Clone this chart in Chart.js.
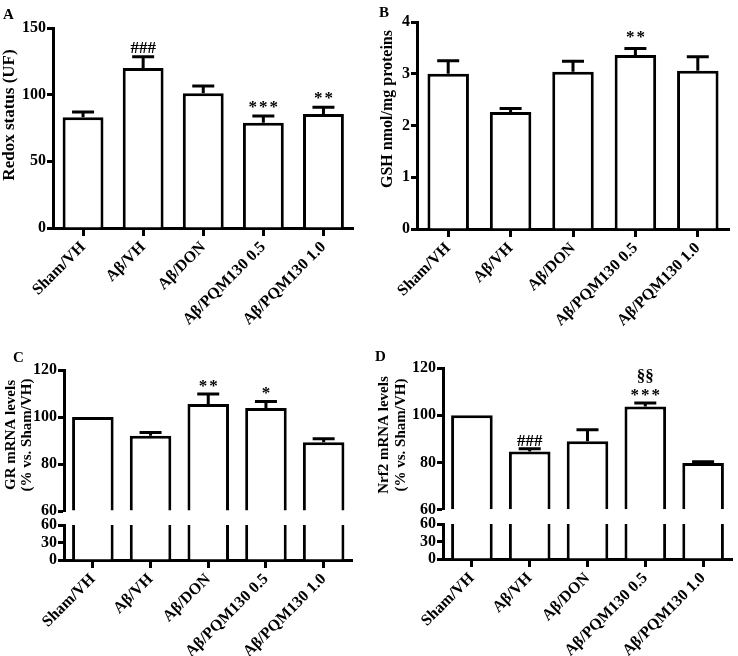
<!DOCTYPE html>
<html>
<head>
<meta charset="utf-8">
<script src="https://cdn.jsdelivr.net/npm/chart.js@4.4.1/dist/chart.umd.min.js"></script>
<style>
  body { margin: 0; background: #fff; }
  #page { position: relative; width: 738px; height: 656px; overflow: hidden; }
  .panel { position: absolute; }
  .tag { position: absolute; font: bold 15px "Liberation Serif", serif; color: #000; }
</style>
</head>
<body>
<div id="page">
  <canvas id="chartA" class="panel" width="369" height="330" style="left:0;top:0"></canvas>
  <canvas id="chartB" class="panel" width="369" height="330" style="left:369px;top:0"></canvas>
  <canvas id="chartC" class="panel" width="369" height="326" style="left:0;top:330px"></canvas>
  <canvas id="chartD" class="panel" width="369" height="326" style="left:369px;top:330px"></canvas>
  <div class="tag" style="left:3px;top:6px">A</div>
  <div class="tag" style="left:379px;top:4px">B</div>
  <div class="tag" style="left:13px;top:349px">C</div>
  <div class="tag" style="left:375px;top:348px">D</div>
</div>
<script>
var groups = ['Sham/VH', 'Aβ/VH', 'Aβ/DON', 'Aβ/PQM130 0.5', 'Aβ/PQM130 1.0'];

// A: redox status (UF)
var redoxMean = [83, 120, 101, 79, 85.5];
var redoxSem = [4, 8.5, 5.5, 5, 5];
var redoxSig = ['', '###', '', '***', '**'];

// B: GSH nmol/mg proteins
var gshMean = [3.0, 2.26, 3.04, 3.36, 3.06];
var gshSem = [0.25, 0.07, 0.2, 0.13, 0.27];
var gshSig = ['', '', '', '**', ''];

// C: GR mRNA (% vs Sham/VH)
var grMean = [100, 92, 105.5, 103.8, 89.3];
var grSem = [0, 1.4, 4.3, 2.8, 1.4];
var grSig = ['', '', '**', '*', ''];

// D: Nrf2 mRNA (% vs Sham/VH)
var nrfMean = [100, 84.6, 89, 103.7, 79.8];
var nrfSem = [0, 1.2, 4.9, 1.5, 0.5];
var nrfSig = ['', '###', '', ['§§', '***'], ''];

var FONT = '"Liberation Serif", "Times New Roman", serif';
Chart.defaults.font.family = FONT;
Chart.defaults.color = '#000';

// upper error bars + significance marks, from the first dataset's scale
var errorBars = {
  id: 'errorBars',
  afterDatasetsDraw: function (chart) {
    var o = chart.options.plugins.errorBars;
    if (!o || !o.mean) return;
    var meta = chart.getDatasetMeta(0);
    var ys = chart.scales[meta.yAxisID];
    var ctx = chart.ctx;
    ctx.save();
    ctx.strokeStyle = '#000';
    ctx.lineWidth = 3;
    ctx.fillStyle = '#000';
    ctx.textAlign = 'center';
    ctx.textBaseline = 'alphabetic';
    ctx.font = 'bold ' + o.fontSize + 'px ' + FONT;
    meta.data.forEach(function (bar, i) {
      var yMean = ys.getPixelForValue(o.mean[i]);
      var yTop = ys.getPixelForValue(o.mean[i] + o.sem[i]);
      if (o.sem[i] > 0) {
        ctx.beginPath();
        ctx.moveTo(bar.x, yMean);
        ctx.lineTo(bar.x, yTop);
        ctx.moveTo(bar.x - o.cap, yTop);
        ctx.lineTo(bar.x + o.cap, yTop);
        ctx.stroke();
      }
      var lines = o.sig[i];
      if (!lines) return;
      if (!Array.isArray(lines)) lines = [lines];
      for (var k = 0; k < lines.length; k++) {
        var row = lines.length - 1 - k;
        var star = lines[k].charAt(0) === '*';
        ctx.letterSpacing = star ? '2px' : '0px';
        ctx.fillText(lines[k], bar.x + (star ? 1 : 0), yTop - o.gap - row * o.lineGap);
      }
    });
    ctx.restore();
  }
};

// rotated y-axis titles
var axisTitle = {
  id: 'axisTitle',
  afterDraw: function (chart) {
    var o = chart.options.plugins.axisTitle;
    if (!o) return;
    var ctx = chart.ctx;
    ctx.save();
    ctx.translate(o.x, o.y);
    ctx.rotate(-Math.PI / 2);
    ctx.fillStyle = '#000';
    ctx.font = 'bold ' + o.size + 'px ' + FONT;
    ctx.textAlign = 'center';
    ctx.textBaseline = 'middle';
    o.lines.forEach(function (t, k) { ctx.fillText(t, 0, k * (o.lineGap || 0)); });
    ctx.restore();
  }
};

function xAxis(h) {
  return {
    type: 'category',
    offset: true,
    grid: { display: true, drawOnChartArea: false, offset: false, tickLength: 8, tickWidth: 3, tickColor: '#000' },
    border: { display: true, color: '#000', width: 3 },
    ticks: { color: '#000', font: { size: 16, weight: 'bold' }, minRotation: 45, maxRotation: 45, autoSkip: false, padding: 2 },
    afterFit: function (s) { s.height = h; }
  };
}

function yAxis(w, min, max, step, extra) {
  var a = {
    type: 'linear',
    position: 'left',
    min: min,
    max: max,
    grid: { display: true, drawOnChartArea: false, tickLength: 6, tickWidth: 3, tickColor: '#000' },
    border: { display: true, color: '#000', width: 3 },
    ticks: { stepSize: step, autoSkip: false, color: '#000', font: { size: 16, weight: 'bold' }, padding: 1 },
    afterFit: function (s) { s.width = w; }
  };
  for (var k in extra) a[k] = extra[k];
  return a;
}

function barSet(data, pct, extra) {
  var d = {
    data: data,
    backgroundColor: '#fff',
    borderColor: '#000',
    borderWidth: 3,
    borderSkipped: 'start',
    barPercentage: pct,
    categoryPercentage: 1,
    grouped: false
  };
  for (var k in extra) d[k] = extra[k];
  return d;
}

function simpleChart(id, mean, sem, sig, geo) {
  return new Chart(document.getElementById(id), {
    type: 'bar',
    data: { labels: groups, datasets: [barSet(mean, geo.pct)] },
    options: {
      responsive: false,
      animation: false,
      layout: { padding: { left: 0, top: geo.top, right: geo.right, bottom: 0 } },
      plugins: {
        legend: { display: false },
        tooltip: { enabled: false },
        errorBars: { mean: mean, sem: sem, sig: sig, cap: 11, gap: geo.gap, lineGap: 18, fontSize: 17 },
        axisTitle: geo.title
      },
      scales: {
        x: xAxis(geo.xh),
        y: yAxis(geo.yw, geo.min, geo.max, geo.step)
      }
    },
    plugins: [errorBars, axisTitle]
  });
}

// broken value axis: same bars drawn on a 60-120 segment and a 0-60 segment
function brokenChart(id, mean, sem, sig, geo) {
  return new Chart(document.getElementById(id), {
    type: 'bar',
    data: {
      labels: groups,
      datasets: [
        barSet(mean, geo.pct, { yAxisID: 'yTop', base: 60, clip: { left: 5, right: 5, top: 5, bottom: 0 } }),
        barSet(mean, geo.pct, { yAxisID: 'yLow', clip: { left: 5, right: 5, top: 0, bottom: 5 } })
      ]
    },
    options: {
      responsive: false,
      animation: false,
      layout: { padding: { left: 0, top: geo.top, right: geo.right, bottom: 0 } },
      plugins: {
        legend: { display: false },
        tooltip: { enabled: false },
        errorBars: { mean: mean, sem: sem, sig: sig, cap: 11, gap: geo.gap, lineGap: 19, fontSize: 17 },
        axisTitle: geo.title
      },
      scales: {
        x: xAxis(geo.xh),
        yLow: yAxis(geo.yw, 0, 60, 30, { stack: 'v', stackWeight: geo.lowH }),
        yGap: {
          type: 'linear', position: 'left', stack: 'v', stackWeight: geo.gapH,
          grid: { display: false }, border: { display: false }, ticks: { display: false },
          afterFit: function (s) { s.width = geo.yw; }
        },
        yTop: yAxis(geo.yw, 60, 120, 20, { stack: 'v', stackWeight: geo.topH })
      }
    },
    plugins: [errorBars, axisTitle]
  });
}

simpleChart('chartA', redoxMean, redoxSem, redoxSig, {
  pct: 0.68, top: 28, right: 15.5, xh: 102, yw: 53, min: 0, max: 150, step: 50, gap: 4,
  title: { x: 10, y: 115, size: 17, lines: ['Redox status (UF)'] }
});

simpleChart('chartB', gshMean, gshSem, gshSig, {
  pct: 0.665, top: 22, right: 9, xh: 101, yw: 48, min: 0, max: 4, step: 1, gap: 6,
  title: { x: 19, y: 109, size: 16, lines: ['GSH nmol/mg proteins'] }
});

brokenChart('chartC', grMean, grSem, grSig, {
  pct: 0.72, top: 40, right: 16.5, xh: 96, yw: 64, topH: 141, gapH: 14, lowH: 35, gap: 3,
  title: { x: 11, y: 105, size: 15, lineGap: 16, lines: ['GR mRNA levels', '(% vs. Sham/VH)'] }
});

brokenChart('chartD', nrfMean, nrfSem, nrfSig, {
  pct: 0.72, top: 38, right: 6, xh: 97, yw: 74, topH: 141.7, gapH: 14.3, lowH: 35, gap: 3,
  title: { x: 15, y: 105, size: 15, lineGap: 17, lines: ['Nrf2 mRNA levels', '(% vs. Sham/VH)'] }
});
</script>
</body>
</html>
